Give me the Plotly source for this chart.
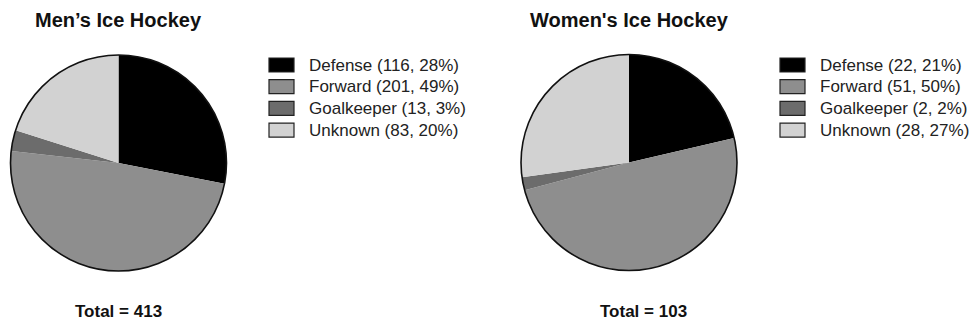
import plotly.graph_objects as go

# ---- data ----
categories = ["Defense", "Forward", "Goalkeeper", "Unknown"]
men_values = [116, 201, 13, 83]
women_values = [22, 51, 2, 28]
men_title = "Men’s Ice Hockey"
women_title = "Women's Ice Hockey"

colors = ["#000000", "#8e8e8e", "#6c6c6c", "#d2d2d2"]

W, H = 971, 324
FONT = "Arial, Liberation Sans, sans-serif"


def px(x):
    return x / W


def py(y):
    return 1 - y / H


def domain(cx, cy, r):
    return dict(x=[px(cx - r), px(cx + r)], y=[py(cy + r), py(cy - r)])


fig = go.Figure()
shapes = []
annotations = []

panels = [
    (men_title, men_values, 118.5, 163, 108, 269, 307, 118.5),
    (women_title, women_values, 629, 162.5, 108, 780, 818, 643),
]

for title, vals, cx, cy, r, sw_x, txt_x, tot_x in panels:
    dom = domain(cx, cy, r)
    fig.add_trace(go.Pie(
        labels=categories, values=vals, sort=False, direction="clockwise",
        rotation=0, marker=dict(colors=colors, line=dict(width=0)),
        textinfo="none", hoverinfo="label+value+percent", domain=dom,
        showlegend=False,
    ))
    # outline circle drawn as a single full slice
    fig.add_trace(go.Pie(
        labels=["outline"], values=[1], sort=False,
        marker=dict(colors=["rgba(0,0,0,0)"], line=dict(color="#111111", width=1.6)),
        textinfo="none", hoverinfo="skip", domain=dom, showlegend=False,
    ))
    total = sum(vals)
    annotations.append(dict(
        text="<b>%s</b>" % title, x=px(cx), y=py(20), xref="paper", yref="paper",
        xanchor="center", yanchor="middle", showarrow=False,
        font=dict(family=FONT, size=20, color="#111111"),
    ))
    annotations.append(dict(
        text="<b>Total = %d</b>" % total, x=px(tot_x), y=py(311), xref="paper", yref="paper",
        xanchor="center", yanchor="middle", showarrow=False,
        font=dict(family=FONT, size=17, color="#111111"),
    ))
    for i, (cat, v) in enumerate(zip(categories, vals)):
        yc = 65 + i * 21.7
        pct = round(100 * v / total)
        shapes.append(dict(
            type="rect", xref="paper", yref="paper",
            x0=px(sw_x), x1=px(sw_x + 25), y0=py(yc + 7), y1=py(yc - 7),
            fillcolor=colors[i], line=dict(color="#222222", width=1.2),
        ))
        annotations.append(dict(
            text="%s (%d, %d%%)" % (cat, v, pct), x=px(txt_x), y=py(yc),
            xref="paper", yref="paper", xanchor="left", yanchor="middle",
            showarrow=False, font=dict(family=FONT, size=17, color="#222222"),
        ))

fig.update_layout(
    width=W, height=H, margin=dict(l=0, r=0, t=0, b=0),
    paper_bgcolor="white", plot_bgcolor="white",
    shapes=shapes, annotations=annotations, showlegend=False,
)

fig.write_html("out.html")
